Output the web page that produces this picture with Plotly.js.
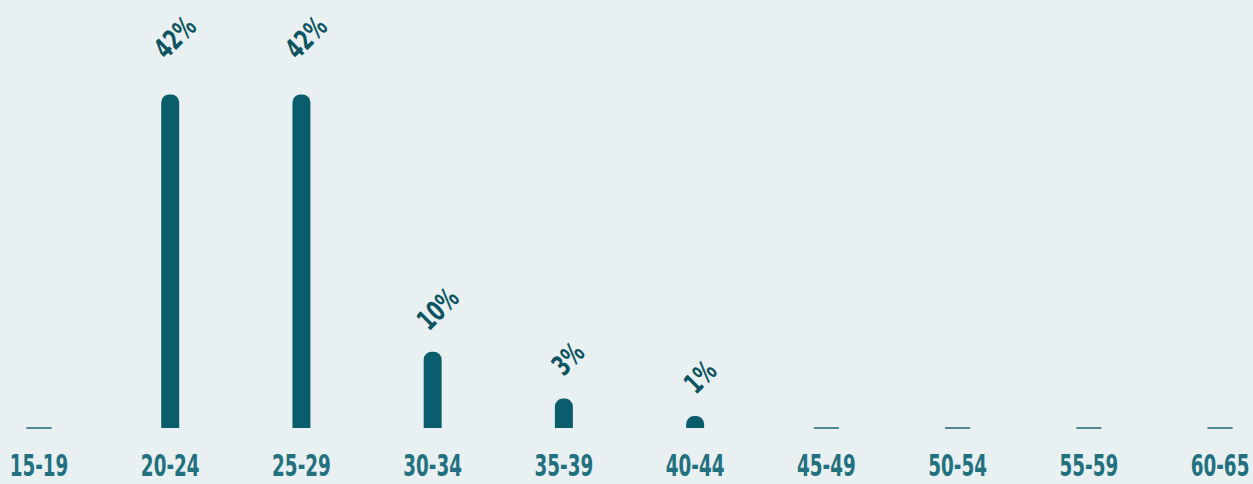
<!DOCTYPE html>
<html>
<head>
<meta charset="utf-8">
<script src="https://cdn.plot.ly/plotly-3.0.1.min.js"></script>
<style>
html,body{margin:0;padding:0;background:#e8f0f2;}
#chart{width:1253px;height:484px;}
#chart g.xtick{transform-box:fill-box;transform-origin:center;transform:scaleX(0.68);}
#chart text.annotation-text{transform-box:fill-box;transform-origin:center;transform:scaleX(0.75);}
</style>
</head>
<body>
<div id="chart"></div>
<script>
const categories = ['15-19','20-24','25-29','30-34','35-39','40-44','45-49','50-54','55-59','60-65'];
const values = [0, 42, 42, 9.6, 3.7, 1.5, 0, 0, 0, 0];
const valueLabels = ['', '42%', '42%', '10%', '3%', '1%', '', '', '', ''];

const FONT = '"DejaVu Sans Condensed", "Liberation Sans Narrow", sans-serif';
const idx = categories.map((c, i) => i);

const barTrace = {
  type: 'bar',
  x: idx,
  y: values,
  width: 0.137,
  marker: {color: '#0a5e6b'},
  hoverinfo: 'skip'
};

const zeroIdx = idx.filter(i => values[i] === 0);
const zeroTrace = {
  type: 'scatter',
  mode: 'markers',
  x: zeroIdx,
  y: zeroIdx.map(i => values[i]),
  marker: {symbol: 'line-ew', size: 18, line: {width: 1.6, color: '#2a6f7c'}},
  cliponaxis: false,
  hoverinfo: 'skip'
};

const annotations = idx.filter(i => valueLabels[i] !== '').map(i => ({
  x: i, y: values[i], xref: 'x', yref: 'y',
  text: valueLabels[i],
  showarrow: false,
  textangle: -45,
  xanchor: 'center', yanchor: 'middle',
  yshift: 38 + 0.45 * values[i], xshift: 5,
  font: {family: FONT, size: 28, color: '#0d5460', weight: 'bold'}
}));

const layout = {
  width: 1253, height: 484,
  margin: {l: 0, r: 0, t: 0, b: 56},
  paper_bgcolor: '#e8f0f2',
  plot_bgcolor: '#e8f0f2',
  showlegend: false,
  barcornerradius: 9,
  xaxis: {
    range: [-0.297, 9.251],
    tickmode: 'array', tickvals: idx, ticktext: categories,
    showgrid: false, zeroline: false, showline: false, ticks: '',
    ticklabelstandoff: 17,
    ticklabeloverflow: 'allow',
    tickfont: {family: FONT, size: 30, color: '#23707e', weight: 'bold'},
    fixedrange: true
  },
  yaxis: {
    range: [0, 53.9],
    visible: false,
    showgrid: false, zeroline: false,
    fixedrange: true
  },
  annotations: annotations
};

Plotly.newPlot('chart', [barTrace, zeroTrace], layout, {displayModeBar: false, staticPlot: true});
</script>
</body>
</html>
